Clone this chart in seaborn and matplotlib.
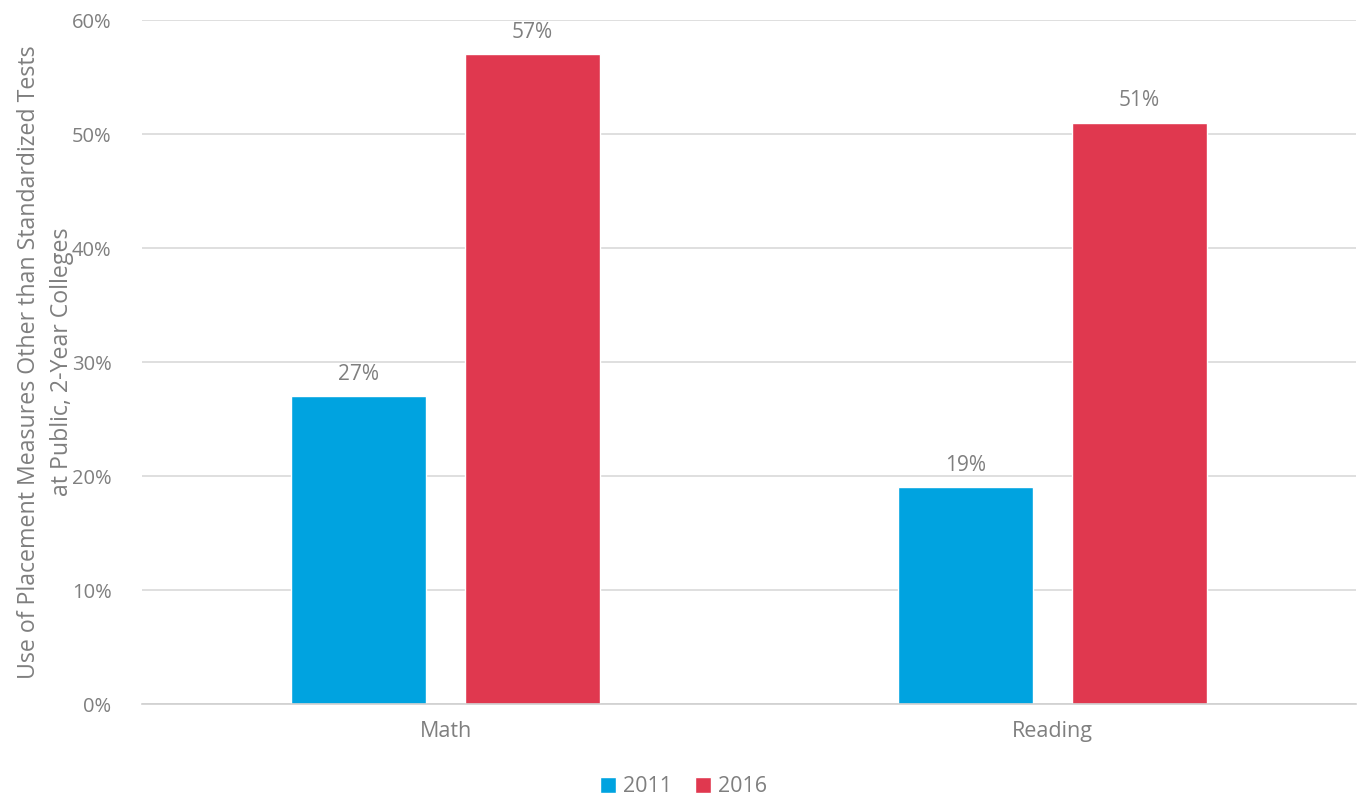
import pandas as pd
import seaborn as sns
import matplotlib.pyplot as plt
from matplotlib.ticker import PercentFormatter

subjects = ['Math', 'Reading']
years = ['2011', '2016']
share_2011 = [0.27, 0.19]
share_2016 = [0.57, 0.51]

df = pd.DataFrame({
    'subject': subjects * 2,
    'year': [years[0]] * 2 + [years[1]] * 2,
    'share': share_2011 + share_2016,
})

sns.set_style('white')
plt.rcParams['font.family'] = ['Open Sans', 'DejaVu Sans']
gray = '#7f7f7f'

fig = plt.figure(figsize=(13.59, 7.98), dpi=100)
ax = fig.add_axes([142 / 1359, 94 / 798, 1214 / 1359, 684 / 798])

sns.barplot(data=df, x='subject', y='share', hue='year',
            palette=['#00a3e0', '#e0384f'], width=0.571, gap=0.22,
            saturation=1, ax=ax)

for cont in ax.containers:
    ax.bar_label(cont, labels=[f'{v * 100:.0f}%' for v in cont.datavalues],
                 padding=8, color=gray, fontsize=15)

ax.set_ylim(0, 0.6)
ax.set_yticks([0, 0.1, 0.2, 0.3, 0.4, 0.5, 0.6])
ax.yaxis.set_major_formatter(PercentFormatter(1.0, decimals=0))
ax.grid(axis='y', color='#d9d9d9', linewidth=1.2)
ax.set_axisbelow(True)
for s in ['top', 'right', 'left']:
    ax.spines[s].set_visible(False)
ax.spines['bottom'].set_color('#d0d0d0')
ax.spines['bottom'].set_linewidth(1.2)
ax.tick_params(axis='y', length=0, colors=gray, labelsize=14.5, pad=22)
ax.tick_params(axis='x', length=0, colors=gray, labelsize=15.5, pad=12)
ax.set_xlabel('')
ax.set_ylabel('Use of Placement Measures Other than Standardized Tests\nat Public, 2-Year Colleges',
              color=gray, fontsize=16.7, labelpad=-2, linespacing=1.55)

ax.legend(loc='center', bbox_to_anchor=(0.446, -0.121), ncol=2, frameon=False,
          fontsize=15.5, labelcolor=gray, handlelength=0.75, handleheight=0.75,
          handletextpad=0.3, columnspacing=1.1)

fig.savefig('out.png', dpi=100)
